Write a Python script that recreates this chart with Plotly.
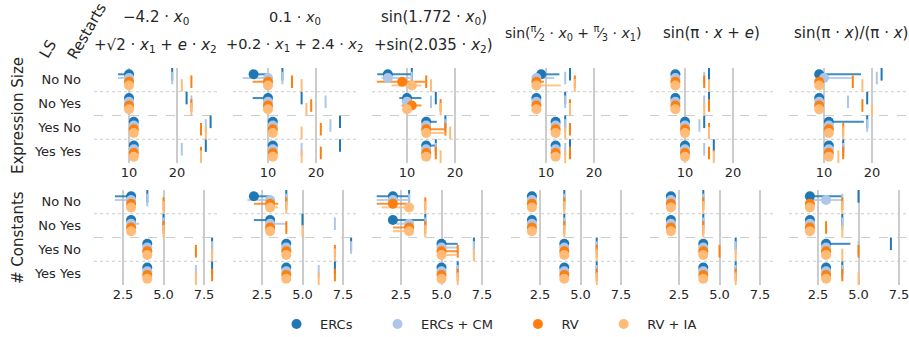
import plotly.graph_objects as go

ROWS = ["No No", "No Yes", "Yes No", "Yes Yes"]
SERIES = ["ERCs", "ERCs + CM", "RV", "RV + IA"]
COLORS = ["#1f77b4", "#aec7e8", "#ff7f0e", "#ffbb78"]

TITLES = [
    ["−4.2 · <i>x</i><sub>0</sub>", "+√2 · <i>x</i><sub>1</sub> + <i>e</i> · <i>x</i><sub>2</sub>"],
    ["0.1 · <i>x</i><sub>0</sub>", "+0.2 · <i>x</i><sub>1</sub> + 2.4 · <i>x</i><sub>2</sub>"],
    ["sin(1.772 · <i>x</i><sub>0</sub>)", "+sin(2.035 · <i>x</i><sub>2</sub>)"],
    ["sin(<sup>π</sup>⁄<sub>2</sub> · <i>x</i><sub>0</sub> + <sup>π</sup>⁄<sub>3</sub> · <i>x</i><sub>1</sub>)"],
    ["sin(π · <i>x</i> + <i>e</i>)"],
    ["sin(π · <i>x</i>)/(π · <i>x</i>)"],
]
TITLE_SIZES = [15, 14.5, 15, 14, 15, 15]

SIZE_TICKS = [10, 20]
CONST_TICKS = [2.5, 5.0, 7.5]

# ---- Expression size: [function][row][series] ----
size_med = [
    [[10, 10, 10, 10], [10, 10, 10, 10], [11, 11, 11, 11], [11, 11, 11, 11]],
    [[7, 10, 10, 10], [10, 10, 10, 10], [11, 11, 11, 11], [11, 11, 11, 11]],
    [[6, 6, 9, 11], [10, 10, 11, 10], [14, 14, 14, 14], [14, 14, 14, 14]],
    [[9, 8, 8, 8], [8, 8, 8, 8], [12, 12, 12, 12], [12, 12, 12, 12]],
    [[8, 8, 8, 8], [8, 8, 8, 8], [10, 10, 10, 10], [10, 10, 10, 10]],
    [[9, 10, 9, 9], [9, 9, 9, 9], [11, 11, 11, 11], [11, 11, 11, 11]],
]
size_lo = [
    [[7.7, 7.7, 10, 10], [10, 10, 10, 10], [11, 11, 11, 11], [11, 11, 11, 11]],
    [[7, 4.7, 6.8, 9.5], [6.8, 10, 10, 10], [11, 11, 11, 11], [11, 11, 11, 11]],
    [[3.8, 4.7, 3.7, 6.8], [8.4, 8.9, 8.9, 10], [14, 14, 14, 14], [14, 14, 14, 14]],
    [[9, 8, 8, 8], [8, 8, 8, 8], [12, 12, 12, 12], [12, 12, 12, 12]],
    [[8, 8, 8, 8], [8, 8, 8, 8], [10, 10, 10, 10], [10, 10, 10, 10]],
    [[9, 10, 9, 9], [9, 9, 9, 9], [11, 11, 11, 11], [11, 10, 11, 11]],
]
size_hi = [
    [[10, 10, 10, 10], [10, 10, 10, 10], [11, 11, 11, 11], [11, 11, 11, 11]],
    [[10, 10, 10, 11], [10, 10, 10, 10], [11, 11, 11, 11], [11, 11, 11, 11]],
    [[11, 10.6, 13.8, 13], [13, 11, 13, 10], [16.2, 14, 18, 18], [16, 14, 14, 14]],
    [[12.8, 11.7, 9.6, 13.1], [8, 8, 8, 8], [12, 12, 12, 12], [12, 12, 12, 12]],
    [[8, 8, 8, 8], [8, 8, 8, 8], [10, 10, 10, 10], [10, 10, 10, 10]],
    [[17.7, 15.8, 9, 9], [9, 9, 9, 9], [18.3, 11, 11, 11], [11, 11, 11, 11]],
]
size_max = [
    [[19, 19, 23, 21], [22, 23, 23, 23], [27, 26, 25, 26], [26, 21, 25, 25]],
    [[13, 13, 15, 17], [17, 22, 19, 18], [25, 23, 21, 17], [25, 17, 21, 17]],
    [[11, 11, 14, 15], [16, 15, 17, 17], [18, 18, 18, 19], [16, 16, 16, 17]],
    [[15, 14, 16, 16], [14, 14, 15, 15], [14, 14, 15, 14], [15, 14, 15, 14]],
    [[15, 14, 14, 15], [15, 14, 15, 14], [14, 13, 15, 15], [16, 14, 15, 16]],
    [[22, 21, 16, 18], [19, 15, 18, 20], [19, 19, 14, 14], [14, 14, 14, 13]],
]

# ---- Number of constants: [function][row][series] ----
const_med = [
    [[3, 3, 3, 3], [3, 3, 3, 3], [4, 4, 4, 4], [4, 4, 4, 4]],
    [[2, 3, 3, 3], [3, 3, 3, 3], [4, 4, 4, 4], [4, 4, 4, 4]],
    [[2, 2, 2, 3], [2, 3, 3, 3], [5, 5, 5, 5], [5, 5, 5, 5]],
    [[2, 2, 2, 2], [2, 2, 2, 2], [4, 4, 4, 4], [4, 4, 4, 4]],
    [[2, 2, 2, 2], [2, 2, 2, 2], [4, 4, 4, 4], [4, 4, 4, 4]],
    [[2, 3, 2, 2], [2, 2, 2, 2], [3, 3, 3, 3], [3, 3, 3, 3]],
]
const_lo = [
    [[2, 2, 3, 3], [3, 3, 3, 3], [4, 4, 4, 4], [4, 4, 4, 4]],
    [[2, 1.6, 2, 3], [2, 3, 3, 3], [4, 4, 4, 4], [4, 4, 4, 4]],
    [[1, 1, 1, 1.3], [2, 2.2, 2, 2], [5, 5, 5, 5], [5, 5, 5, 5]],
    [[2, 2, 2, 2], [2, 2, 2, 2], [4, 4, 4, 4], [4, 4, 4, 4]],
    [[2, 2, 2, 2], [2, 2, 2, 2], [4, 4, 4, 4], [4, 4, 4, 4]],
    [[2, 2.2, 2, 2], [2, 2, 2, 2], [3, 3, 3, 3], [3, 3, 3, 3]],
]
const_hi = [
    [[3, 3, 3, 3], [3, 3.5, 3, 3], [4, 4, 4, 4], [4, 4, 4, 4]],
    [[3, 3, 3.5, 3.5], [3, 4, 3, 3], [4, 4, 4, 4], [4, 4, 4, 4]],
    [[3, 3, 3, 3], [4, 3, 3, 3], [6, 6, 6, 6], [5, 5, 5, 5]],
    [[2, 2, 2, 2], [2, 2, 2, 2], [4, 4, 4, 4], [4, 4, 4, 4]],
    [[2, 2, 2, 2], [2, 2, 2, 2], [4, 4, 4, 4], [4, 4, 4, 4]],
    [[4, 4, 2, 2], [2, 2, 2, 2], [4.5, 3, 3, 3], [3, 3, 3, 3]],
]
const_max = [
    [[4, 4, 5, 5], [5, 5, 5, 5], [8, 8, 7, 8], [8, 7, 8, 7]],
    [[4, 4, 4, 4], [5, 7, 4, 5], [8, 8, 7, 7], [7, 6, 7, 6]],
    [[3, 3, 4, 4], [4, 4, 4, 4], [7, 7, 6, 7], [6, 6, 6, 6]],
    [[4, 4, 4, 4], [4, 4, 4, 4], [6, 6, 6, 6], [6, 6, 6, 6]],
    [[4, 4, 4, 4], [4, 4, 4, 4], [6, 6, 5, 6], [6, 6, 6, 6]],
    [[5, 4, 4, 4], [4, 4, 3, 4], [7, 5, 5, 4], [4, 4, 4, 5]],
]

W, H = 909, 337
FONT = "DejaVu Sans"
TXT = "#262626"
GRID = "#cccccc"
LEFT0, PW, STEP = 94, 123, 139
ROW_PX = [(68, 163), (190, 285)]
SCALE = [(10.0, 35, 4.8), (2.5, 29, 16.2)]
OFFS = [-0.234, -0.078, 0.078, 0.234]

METRICS = [
    (size_med, size_lo, size_hi, size_max, SIZE_TICKS),
    (const_med, const_lo, const_hi, const_max, CONST_TICKS),
]

fig = go.Figure()
layout = {}
shapes = []
for m, (med, lo, hi, mx, ticks) in enumerate(METRICS):
    ref_v, ref_px, ppu = SCALE[m]
    for f in range(6):
        k = m * 6 + f + 1
        xa = "x" if k == 1 else f"x{k}"
        ya = "y" if k == 1 else f"y{k}"
        x0 = LEFT0 + f * STEP
        x1 = min(x0 + PW, W)
        xmin = ref_v - ref_px / ppu
        xmax = xmin + (x1 - x0) / ppu
        layout["xaxis" if k == 1 else f"xaxis{k}"] = dict(
            domain=[x0 / W, x1 / W], range=[xmin, xmax], anchor=ya, automargin=False,
            tickvals=ticks, ticktext=[(f"{t:.1f}" if m == 1 else f"{t:g}") for t in ticks],
            showgrid=True, gridcolor=GRID, gridwidth=1.5, zeroline=False,
            showline=False, ticks="", ticklabeloverflow="allow",
            tickfont=dict(size=13, color=TXT, family=FONT),
        )
        layout["yaxis" if k == 1 else f"yaxis{k}"] = dict(
            domain=[1 - ROW_PX[m][1] / H, 1 - ROW_PX[m][0] / H], range=[3.5, -0.5],
            anchor=xa, automargin=False, tickvals=[0, 1, 2, 3], ticktext=ROWS,
            showticklabels=(f == 0),
            showgrid=False, zeroline=False, showline=False, ticks="",
            ticklabelstandoff=12, tickfont=dict(size=13, color=TXT, family=FONT),
        )
        for yb, dash in [(0.5, "dot"), (1.5, "dash"), (2.5, "dot")]:
            shapes.append(dict(type="line", xref=f"{xa} domain", yref=ya, x0=0, x1=1,
                               y0=yb, y1=yb, layer="below",
                               line=dict(color=GRID, width=1.2, dash=dash)))
        for s in range(4):
            ys = [r + OFFS[s] for r in range(4)]
            lx, ly = [], []
            for r in range(4):
                if hi[f][r][s] > lo[f][r][s]:
                    lx += [lo[f][r][s], hi[f][r][s], None]
                    ly += [ys[r], ys[r], None]
            if lx:
                fig.add_trace(go.Scatter(x=lx, y=ly, mode="lines", xaxis=xa, yaxis=ya,
                                         line=dict(color=COLORS[s], width=2), opacity=0.85,
                                         showlegend=False, hoverinfo="skip"))
            fig.add_trace(go.Scatter(x=[mx[f][r][s] for r in range(4)], y=ys, mode="markers",
                                     xaxis=xa, yaxis=ya, showlegend=False,
                                     marker=dict(symbol="line-ns", size=9,
                                                 line=dict(color=COLORS[s], width=2))))
        for s in range(4):
            ys = [r + OFFS[s] for r in range(4)]
            fig.add_trace(go.Scatter(x=[med[f][r][s] for r in range(4)], y=ys, mode="markers",
                                     xaxis=xa, yaxis=ya, name=SERIES[s] + "\u00a0" * 4,
                                     showlegend=(k == 1),
                                     marker=dict(color=COLORS[s], size=10)))

annotations = []
for f, lines in enumerate(TITLES):
    cx = (LEFT0 + f * STEP + PW / 2) / W
    pos = [18, 45] if len(lines) == 2 else [33]
    for txt, ypx in zip(lines, pos):
        annotations.append(dict(text=txt, x=cx, y=1 - ypx / H, xref="paper", yref="paper",
                                showarrow=False, xanchor="center", yanchor="middle",
                                font=dict(size=TITLE_SIZES[f], color=TXT, family=FONT)))
for ytitle, ypx in [("Expression Size", 116), ("# Constants", 238)]:
    annotations.append(dict(text=ytitle, x=18 / W, y=1 - ypx / H, xref="paper", yref="paper",
                            showarrow=False, textangle=-90, xanchor="center", yanchor="middle",
                            font=dict(size=15, color=TXT, family=FONT)))
annotations.append(dict(text="LS", x=48 / W, y=1 - 49 / H, xref="paper", yref="paper",
                        showarrow=False, textangle=-60, xanchor="center", yanchor="middle",
                        font=dict(size=15, color=TXT, family=FONT)))
annotations.append(dict(text="Restarts", x=87 / W, y=1 - 31 / H, xref="paper", yref="paper",
                        showarrow=False, textangle=-60, xanchor="center", yanchor="middle",
                        font=dict(size=15, color=TXT, family=FONT)))

fig.update_layout(
    width=W, height=H, margin=dict(l=0, r=0, t=0, b=0, autoexpand=False),
    paper_bgcolor="white", plot_bgcolor="white",
    font=dict(family=FONT, color=TXT, size=13),
    showlegend=True,
    legend=dict(orientation="h", x=273 / W, xanchor="left", y=1 - 324 / H, yanchor="middle",
                font=dict(size=13, color=TXT, family=FONT), itemwidth=37),
    shapes=shapes, annotations=annotations, **layout,
)
fig.write_html("out.html", config={"displayModeBar": False},
               post_script="document.body.style.margin='0';document.body.style.overflow='hidden';")
